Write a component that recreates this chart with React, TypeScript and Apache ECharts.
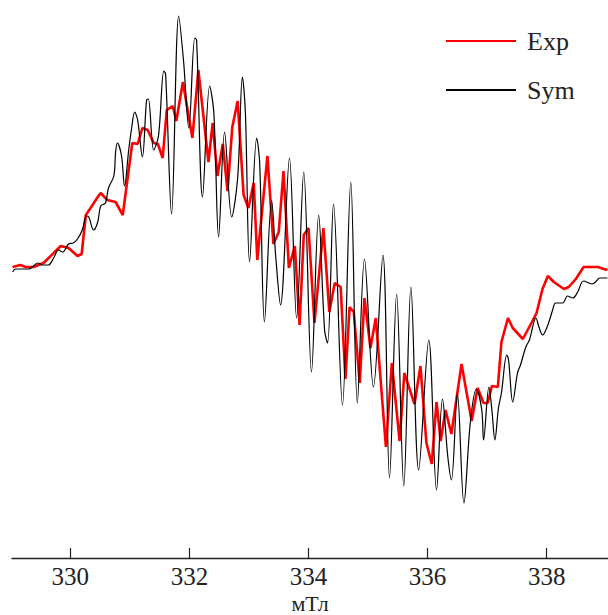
import React, { useEffect, useRef } from "react";
import * as echarts from "echarts";

// Magnetic field, mT
const expField = [
  329.03, 329.16, 329.25, 329.38, 329.55, 329.84, 329.97, 330.12, 330.19, 330.26,
  330.34, 330.46, 330.51, 330.62, 330.76, 330.88, 331.04, 331.13, 331.21, 331.3,
  331.4, 331.47, 331.55, 331.62, 331.72, 331.78, 331.89, 332.05, 332.15, 332.32,
  332.39, 332.47, 332.56, 332.64, 332.72, 332.81, 332.91, 332.99, 333.08, 333.14,
  333.31, 333.41, 333.5, 333.58, 333.67, 333.77, 333.85, 333.92, 334.0, 334.1,
  334.25, 334.35, 334.44, 334.54, 334.62, 334.69, 334.76, 334.86, 334.94, 335.04,
  335.13, 335.3, 335.4, 335.53, 335.61, 335.78, 335.88, 335.98, 336.07, 336.15,
  336.22, 336.3, 336.4, 336.57, 336.74, 336.84, 336.94, 337.01, 337.08, 337.18,
  337.24, 337.35, 337.43, 337.6, 337.77, 337.83, 337.93, 338.02, 338.12, 338.29,
  338.37, 338.49, 338.62, 338.86, 338.96, 339.02,
];
// Experimental EPR signal, arbitrary units
const expSignal = [
  3, 5, 3, 3, 7, 24, 22, 14, 16, 55,
  62, 73, 77, 70, 68, 55, 127, 126, 142, 140,
  127, 126, 112, 160, 164, 149, 188, 132, 200, 108,
  147, 94, 126, 79, 143, 169, 75, 62, 87, 10,
  114, 26, 38, 99, 2, 24, -55, 35, 42, -53,
  42, -42, -13, -17, -109, -37, -42, -113, -28, -78,
  -48, -177, -93, -171, -103, -134, -96, -173, -194, -132,
  -171, -140, -164, -94, -151, -118, -133, -133, -116, -117,
  -72, -48, -58, -69, -50, -43, -19, -6, -12, -19,
  -17, -9, 3, 3, 1, 0,
];

const symField = [
  329.03, 329.08, 329.3, 329.38, 329.45, 329.53, 329.63, 329.72, 329.8, 329.87,
  329.97, 330.05, 330.12, 330.2, 330.27, 330.31, 330.39, 330.46, 330.51, 330.59,
  330.64, 330.73, 330.76, 330.79, 330.86, 330.91, 330.98, 331.03, 331.08, 331.13,
  331.21, 331.28, 331.31, 331.4, 331.48, 331.57, 331.6, 331.7, 331.82, 331.9,
  331.99, 332.09, 332.12, 332.22, 332.34, 332.41, 332.49, 332.59, 332.71, 332.81,
  332.89, 332.94, 333.01, 333.13, 333.18, 333.26, 333.38, 333.45, 333.53, 333.68,
  333.8, 333.92, 334.05, 334.17, 334.27, 334.32, 334.42, 334.57, 334.71, 334.82,
  334.94, 335.09, 335.25, 335.36, 335.48, 335.6, 335.72, 335.85, 336.02, 336.15,
  336.25, 336.34, 336.4, 336.5, 336.61, 336.72, 336.82, 336.91, 336.94, 337.03,
  337.08, 337.13, 337.19, 337.24, 337.33, 337.36, 337.43, 337.51, 337.56, 337.65,
  337.71, 337.82, 337.87, 337.93, 338.02, 338.1, 338.15, 338.27, 338.35, 338.44,
  338.52, 338.62, 338.76, 338.82, 338.89, 339.02,
];
// Simulated EPR signal, arbitrary units
const symSignal = [
  -2, 1, 1, 4, 7, 5, 5, 12, 20, 18,
  26, 27, 31, 40, 54, 53, 40, 48, 64, 67,
  82, 94, 118, 127, 114, 84, 120, 142, 158, 150,
  113, 170, 171, 120, 134, 199, 196, 56, 254, 210,
  142, 232, 230, 73, 184, 157, 33, 138, 53, 92,
  193, 157, 8, 132, 107, -52, 70, 13, -35, 112,
  -48, 98, -102, 55, -60, -73, 66, -135, 88, -133,
  11, -117, 15, -208, -24, -216, -17, -200, -70, -220,
  -129, -187, -210, -123, -233, -151, -119, -140, -170, -117,
  -140, -170, -138, -123, -85, -90, -132, -103, -95, -77,
  -70, -48, -57, -65, -55, -40, -33, -33, -26, -28,
  -22, -11, -14, -12, -8, -8,
];

const tickValues = [330, 332, 334, 336, 338];
const axisName = "мТл";
const seriesNames = ["Exp", "Sym"];

const FONT = "'Liberation Serif', 'Times New Roman', serif";

export default function App() {
  const ref = useRef<HTMLDivElement>(null);
  useEffect(() => {
    if (!ref.current) return;
    const chart = echarts.init(ref.current, null, { renderer: "svg" });
    chart.setOption({
      animation: false,
      backgroundColor: "#ffffff",
      grid: {
        left: 12,
        right: 0,
        top: 0,
        height: 558,
        containLabel: false,
        outerBoundsMode: "none",
      },
      legend: {
        orient: "vertical",
        left: 446,
        top: 28,
        padding: 0,
        icon: "rect",
        itemWidth: 70,
        itemHeight: 2,
        itemGap: 23,
        data: seriesNames,
        textStyle: {
          fontFamily: FONT,
          fontSize: 26,
          lineHeight: 26,
          color: "#222",
          padding: [0, 0, 0, 6],
        },
      },
      xAxis: {
        type: "value",
        min: 329.02,
        max: 339.03,
        name: axisName,
        nameLocation: "middle",
        nameGap: 35,
        nameMoveOverlap: false,
        nameTextStyle: {
          fontFamily: FONT,
          fontSize: 22,
          lineHeight: 20,
          color: "#222",
        },
        axisLine: { onZero: false, lineStyle: { color: "#222", width: 1.3 } },
        axisTick: {
          inside: true,
          length: 10,
          customValues: tickValues,
          lineStyle: { color: "#222", width: 1.2 },
        },
        axisLabel: {
          customValues: tickValues,
          margin: 8,
          fontFamily: FONT,
          fontSize: 25,
          lineHeight: 20,
          color: "#222",
        },
        splitLine: { show: false },
      },
      yAxis: {
        type: "value",
        min: -288,
        max: 270,
        show: false,
      },
      series: [
        {
          name: "Exp",
          type: "line",
          data: expField.map((b, i) => [b, expSignal[i]]),
          showSymbol: false,
          symbol: "none",
          lineStyle: { color: "#ff0000", width: 2.6 },
          itemStyle: { color: "#ff0000" },
          z: 2,
        },
        {
          name: "Sym",
          type: "line",
          data: symField.map((b, i) => [b, symSignal[i]]),
          showSymbol: false,
          symbol: "none",
          smooth: 0.35,
          lineStyle: { color: "#000000", width: 1.2 },
          itemStyle: { color: "#000000" },
          z: 3,
        },
      ],
    });
    return () => chart.dispose();
  }, []);
  return (
    <div
      ref={ref}
      style={{ position: "fixed", left: 0, top: 0, width: 608, height: 615 }}
    />
  );
}
